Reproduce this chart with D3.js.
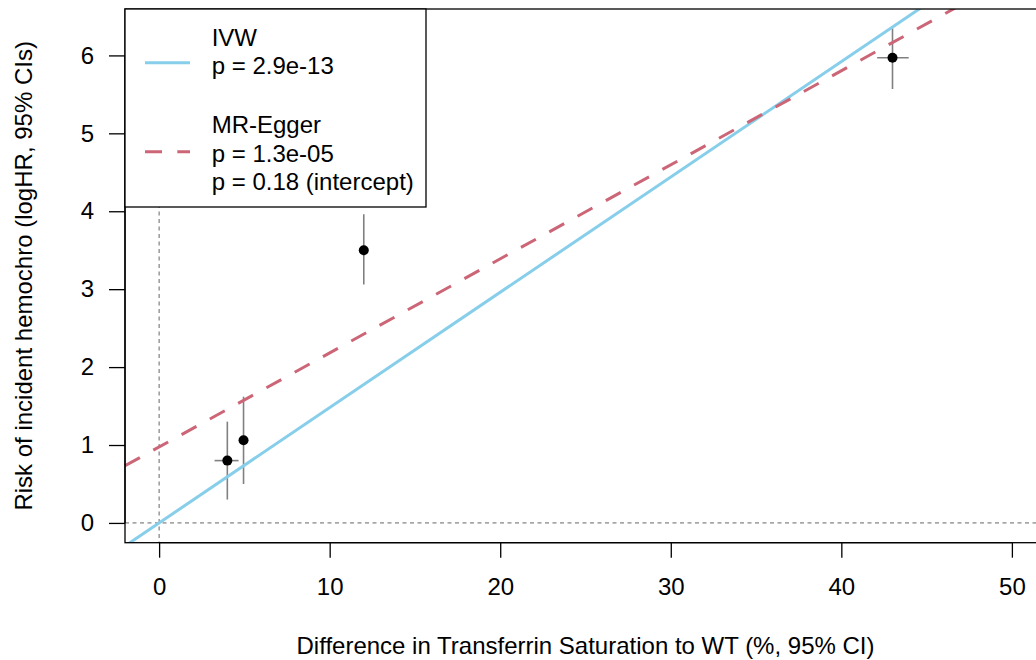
<!DOCTYPE html>
<html>
<head>
<meta charset="utf-8">
<script src="https://cdn.jsdelivr.net/npm/d3@7"></script>
<style>
  html, body { margin: 0; padding: 0; background: #fff; }
  svg text { font-family: Arial, "Liberation Sans", sans-serif; fill: #000; }
</style>
</head>
<body>
<svg id="chart" width="1036" height="660"></svg>
<script>
// Per-variant estimates: exposure effect (x) and outcome effect (y) with 95% CIs
const exposure   = [4.0, 4.95, 12.0, 43.0];
const exposureLo = [3.25, 4.85, 11.9, 42.1];
const exposureHi = [4.66, 5.05, 12.1, 43.95];
const outcome    = [0.80, 1.06, 3.50, 5.97];
const outcomeLo  = [0.30, 0.50, 3.06, 5.57];
const outcomeHi  = [1.30, 1.62, 3.96, 6.35];

// Fitted MR lines
const ivwSlope = 0.148;
const eggerIntercept = 0.975;
const eggerSlope = 0.1207;

const xTicks = [0, 10, 20, 30, 40, 50];
const yTicks = [0, 1, 2, 3, 4, 5, 6];

const legendLabels = {
  ivw: ["IVW", "p = 2.9e-13"],
  egger: ["MR-Egger", "p = 1.3e-05", "p = 0.18 (intercept)"]
};

const xTitle = "Difference in Transferrin Saturation to WT (%, 95% CI)";
const yTitle = "Risk of incident hemochro (logHR, 95% CIs)";

const BLUE = "#87CEEB";
const ROSE = "#CC6677";
const FONT = 24;

const svg = d3.select("#chart");
const plot = { left: 125, top: 9, right: 1046, bottom: 542.7 };

// Axis limits with the usual 4% padding around the data range
const xlim = [0, 50], ylim = [0, 6.342];
const pad = (l) => [l[0] - 0.04 * (l[1] - l[0]), l[1] + 0.04 * (l[1] - l[0])];
const x = d3.scaleLinear().domain(pad(xlim)).range([plot.left, plot.right]);
const y = d3.scaleLinear().domain(pad(ylim)).range([plot.bottom, plot.top]);

svg.append("defs").append("clipPath").attr("id", "plotclip")
  .append("rect")
  .attr("x", plot.left).attr("y", plot.top)
  .attr("width", plot.right - plot.left).attr("height", plot.bottom - plot.top);

const inner = svg.append("g").attr("clip-path", "url(#plotclip)");

// Reference lines at zero
inner.append("line")
  .attr("x1", x(0)).attr("x2", x(0))
  .attr("y1", plot.top).attr("y2", plot.bottom)
  .attr("stroke", "#666").attr("stroke-width", 1).attr("stroke-dasharray", "4,3.5");
inner.append("line")
  .attr("x1", plot.left).attr("x2", plot.right)
  .attr("y1", y(0)).attr("y2", y(0))
  .attr("stroke", "#666").attr("stroke-width", 1).attr("stroke-dasharray", "4,3.5");

const idx = d3.range(exposure.length);

// Confidence intervals
inner.selectAll("line.vci").data(idx).join("line").attr("class", "vci")
  .attr("x1", i => x(exposure[i])).attr("x2", i => x(exposure[i]))
  .attr("y1", i => y(outcomeLo[i])).attr("y2", i => y(outcomeHi[i]))
  .attr("stroke", "#808080").attr("stroke-width", 1.6);
inner.selectAll("line.hci").data(idx).join("line").attr("class", "hci")
  .attr("x1", i => x(exposureLo[i])).attr("x2", i => x(exposureHi[i]))
  .attr("y1", i => y(outcome[i])).attr("y2", i => y(outcome[i]))
  .attr("stroke", "#808080").attr("stroke-width", 1.6);

// Point estimates
inner.selectAll("circle.pt").data(idx).join("circle").attr("class", "pt")
  .attr("cx", i => x(exposure[i])).attr("cy", i => y(outcome[i]))
  .attr("r", 5).attr("fill", "#000");

// Regression lines across the full x range
const xr = x.domain();
inner.append("line")
  .attr("x1", x(xr[0])).attr("y1", y(ivwSlope * xr[0]))
  .attr("x2", x(xr[1])).attr("y2", y(ivwSlope * xr[1]))
  .attr("stroke", BLUE).attr("stroke-width", 3);
inner.append("line")
  .attr("x1", x(xr[0])).attr("y1", y(eggerIntercept + eggerSlope * xr[0]))
  .attr("x2", x(xr[1])).attr("y2", y(eggerIntercept + eggerSlope * xr[1]))
  .attr("stroke", ROSE).attr("stroke-width", 3).attr("stroke-dasharray", "17,15.3");

// Plot frame
svg.append("rect")
  .attr("x", plot.left).attr("y", plot.top)
  .attr("width", plot.right - plot.left).attr("height", plot.bottom - plot.top)
  .attr("fill", "none").attr("stroke", "#000").attr("stroke-width", 1.3);

// X axis
const xAxis = d3.axisBottom(x).tickValues(xTicks).tickSize(15).tickPadding(20)
  .tickFormat(d3.format("d"));
const gx = svg.append("g").attr("transform", `translate(0,${plot.bottom})`).call(xAxis);
gx.select(".domain").attr("d", `M${x(xTicks[0])},0H${x(xTicks[xTicks.length - 1])}`)
  .attr("stroke", "#000").attr("stroke-width", 1.3);
gx.selectAll(".tick line").attr("stroke", "#000").attr("stroke-width", 1.3);
gx.selectAll(".tick text").attr("font-size", FONT).attr("font-family", "Arial, 'Liberation Sans', sans-serif")
  .attr("fill", "#000");

// Y axis
const yAxis = d3.axisLeft(y).tickValues(yTicks).tickSize(16).tickPadding(15)
  .tickFormat(d3.format("d"));
const gy = svg.append("g").attr("transform", `translate(${plot.left},0)`).call(yAxis);
gy.select(".domain").attr("d", `M0,${y(yTicks[0])}V${y(yTicks[yTicks.length - 1])}`)
  .attr("stroke", "#000").attr("stroke-width", 1.3);
gy.selectAll(".tick line").attr("stroke", "#000").attr("stroke-width", 1.3);
gy.selectAll(".tick text").attr("font-size", FONT).attr("font-family", "Arial, 'Liberation Sans', sans-serif")
  .attr("fill", "#000");

// Axis titles
svg.append("text")
  .attr("x", (plot.left + plot.right) / 2).attr("y", 654)
  .attr("text-anchor", "middle").attr("font-size", FONT)
  .text(xTitle);
svg.append("text")
  .attr("transform", `translate(31.5,${(plot.top + plot.bottom) / 2}) rotate(-90)`)
  .attr("text-anchor", "middle").attr("font-size", FONT)
  .text(yTitle);

// Legend
const lg = svg.append("g");
lg.append("rect")
  .attr("x", plot.left).attr("y", plot.top)
  .attr("width", 426 - plot.left).attr("height", 207 - plot.top)
  .attr("fill", "#fff").attr("stroke", "#000").attr("stroke-width", 1.3);
lg.append("line").attr("x1", 145).attr("x2", 190).attr("y1", 62.7).attr("y2", 62.7)
  .attr("stroke", BLUE).attr("stroke-width", 3);
lg.append("line").attr("x1", 145).attr("x2", 190).attr("y1", 151.7).attr("y2", 151.7)
  .attr("stroke", ROSE).attr("stroke-width", 3).attr("stroke-dasharray", "17,15.3");
const ivwBase = [46, 74];
legendLabels.ivw.forEach((t, i) => {
  lg.append("text").attr("x", 211.7).attr("y", ivwBase[i]).attr("font-size", FONT).text(t);
});
const eggBase = [132.7, 161.5, 189.5];
legendLabels.egger.forEach((t, i) => {
  lg.append("text").attr("x", 211.7).attr("y", eggBase[i]).attr("font-size", FONT).text(t);
});
</script>
</body>
</html>
